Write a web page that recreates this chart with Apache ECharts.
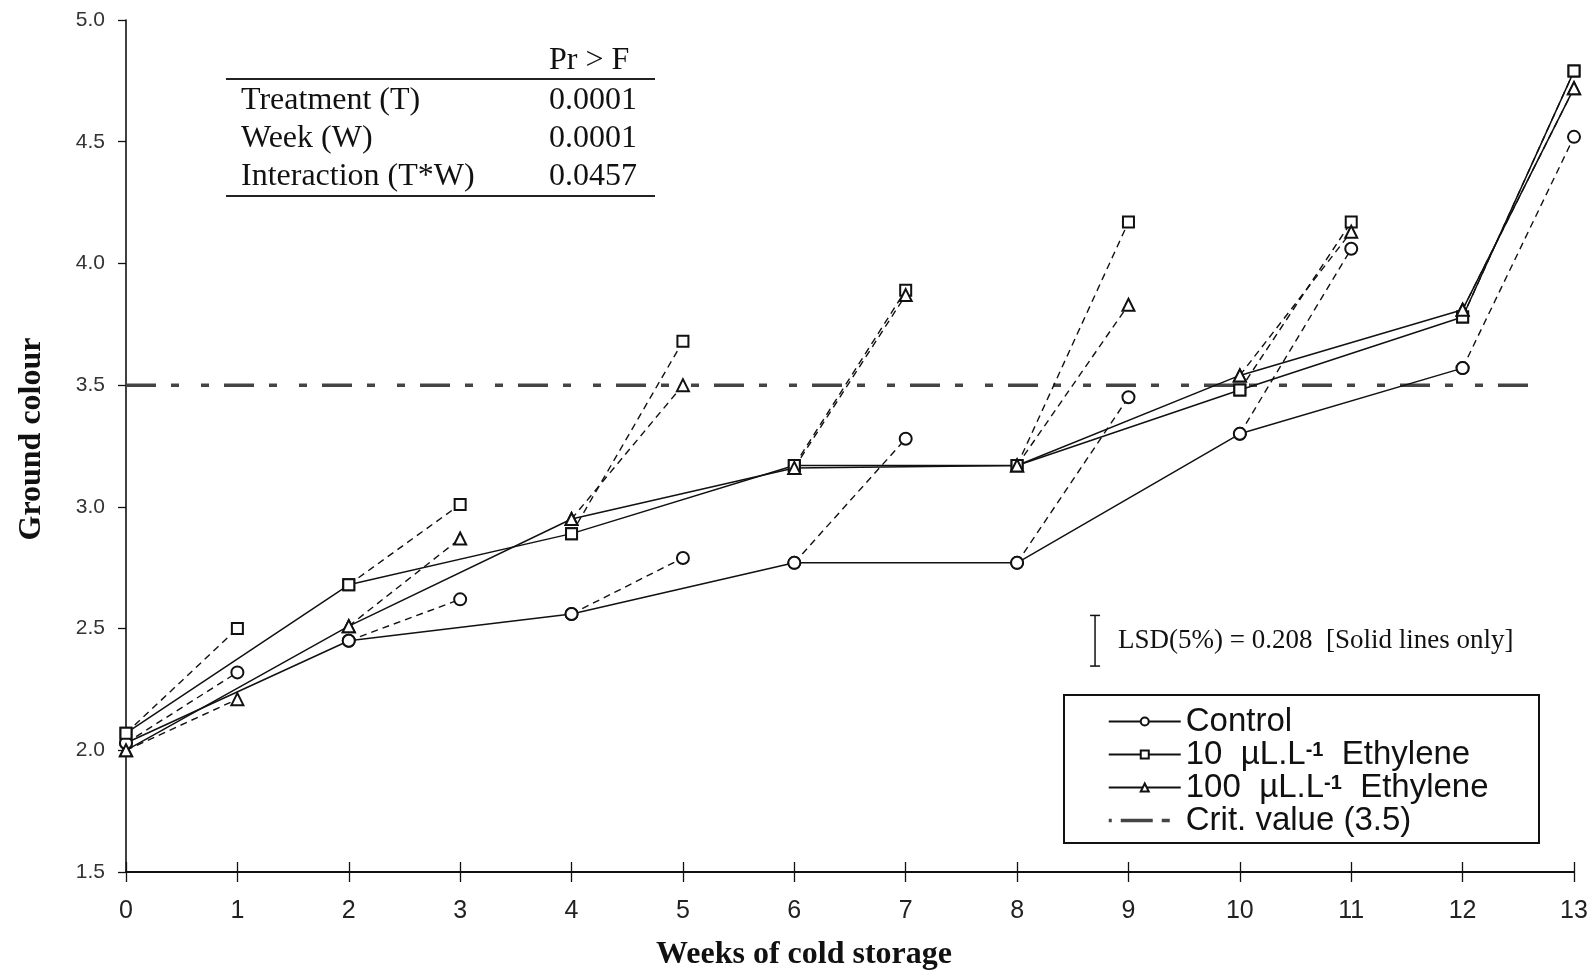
<!DOCTYPE html>
<html>
<head>
<meta charset="utf-8">
<title>Ground colour</title>
<script src="https://cdn.jsdelivr.net/npm/echarts@6/dist/echarts.min.js"></script>
<style>
  html, body { margin: 0; padding: 0; background: #fff; }
  #myChart { width: 1593px; height: 971px; }
</style>
</head>
<body>
<div id="myChart"></div>
<script>
// weeks of cold storage
var weeks = [0, 1, 2, 3, 4, 5, 6, 7, 8, 9, 10, 11, 12, 13];
// ground colour per week (even weeks = out of cold store, odd weeks = after shelf life)
var control     = [2.03, 2.32, 2.45, 2.62, 2.56, 2.79, 2.77, 3.28, 2.77, 3.45, 3.30, 4.06, 3.57, 4.52];
var ethylene10  = [2.07, 2.50, 2.68, 3.01, 2.89, 3.68, 3.17, 3.89, 3.17, 4.17, 3.48, 4.17, 3.78, 4.79];
var ethylene100 = [2.00, 2.21, 2.51, 2.87, 2.95, 3.50, 3.16, 3.87, 3.17, 3.83, 3.54, 4.13, 3.81, 4.72];

// weeks joined by the solid lines
var solidControl = [0, 2, 4, 6, 8, 10, 12];
var solidEthylene = [0, 2, 4, 6, 8, 10, 12, 13];
// weeks joined by the dashed lines
var dashedPairs = [[0, 1], [2, 3], [4, 5], [6, 7], [8, 9], [10, 11], [12, 13]];

var critValue = 3.5;
var critWeeks = [0, 12.6];
var lsd = 0.208;

var anovaTerms = ['Treatment (T)', 'Week (W)', 'Interaction (T*W)'];
var anovaP = ['0.0001', '0.0001', '0.0457'];

var names = ['Control', '10  µL.L-1  Ethylene', '100  µL.L-1  Ethylene', 'Crit. value (3.5)'];

function solidData(vals, ws) {
    return ws.map(function (w) { return [w, vals[weeks.indexOf(w)]]; });
}
function dashedData(vals) {
    var out = [];
    dashedPairs.forEach(function (p) {
        out.push([p[0], vals[weeks.indexOf(p[0])]]);
        out.push([p[1], vals[weeks.indexOf(p[1])]]);
        out.push([p[1], '-']);
    });
    return out;
}

var black = '#111';
var treatments = [
    { name: names[0], vals: control, ws: solidControl, symbol: 'emptyCircle', size: 12 },
    { name: names[1], vals: ethylene10, ws: solidEthylene, symbol: 'emptyRect', size: 11 },
    { name: names[2], vals: ethylene100, ws: solidEthylene, symbol: 'emptyTriangle', size: 12 }
];

var series = [];
treatments.forEach(function (t) {
    series.push({
        name: t.name + ' shelf',
        type: 'line',
        data: dashedData(t.vals),
        symbol: t.symbol,
        symbolSize: t.size,
        color: black,
        lineStyle: { color: black, width: 1.4, type: [7, 5] },
        itemStyle: { color: black, borderWidth: 1.4 },
        z: 3
    });
});
treatments.forEach(function (t) {
    series.push({
        name: t.name,
        type: 'line',
        data: solidData(t.vals, t.ws),
        symbol: t.symbol,
        symbolSize: t.size,
        color: black,
        lineStyle: { color: black, width: 1.5 },
        itemStyle: { color: black, borderWidth: 1.4 },
        z: 4
    });
});
series.push({
    name: names[3],
    type: 'line',
    data: critWeeks.map(function (w) { return [w, critValue]; }),
    symbol: 'none',
    showSymbol: false,
    color: '#444',
    lineStyle: { color: '#444', width: 3.5, type: [30, 15, 8, 22, 8, 15] },
    z: 2
});

function staticGraphics() {
    var g = [
        { type: 'line', shape: { x1: 226, y1: 79, x2: 655, y2: 79 }, style: { stroke: '#222', lineWidth: 2 } },
        { type: 'line', shape: { x1: 226, y1: 196, x2: 655, y2: 196 }, style: { stroke: '#222', lineWidth: 2 } },
        { type: 'text', x: 549, y: 61, style: { text: 'Pr > F', font: '32px "Liberation Serif", serif', fill: '#111', verticalAlign: 'middle' } },
        { type: 'rect', shape: { x: 1064, y: 695, width: 475, height: 148 }, style: { fill: 'none', stroke: '#111', lineWidth: 2 } },
        { type: 'text', x: 1118, y: 641, style: { text: 'LSD(5%) = 0.208  [Solid lines only]', font: '27px "Liberation Serif", serif', fill: '#111', verticalAlign: 'middle' } }
    ];
    anovaTerms.forEach(function (term, i) {
        g.push({ type: 'text', x: 241, y: 101 + i * 38, style: { text: term, font: '32px "Liberation Serif", serif', fill: '#111', verticalAlign: 'middle' } });
        g.push({ type: 'text', x: 549, y: 101 + i * 38, style: { text: anovaP[i], font: '32px "Liberation Serif", serif', fill: '#111', verticalAlign: 'middle' } });
    });
    return g;
}

var legendData = names.map(function (n, i) {
    if (i < 3) return { name: n };
    return {
        name: n,
        itemStyle: { opacity: 0 },
        lineStyle: { color: '#444', width: 3.5, type: [3, 9, 32, 9, 8, 30] }
    };
});

var myChart = echarts.init(document.getElementById('myChart'));
var option = {
    backgroundColor: '#fff',
    animation: false,
    grid: { left: 126, right: 19, top: 20, bottom: 99, containLabel: false, outerBoundsMode: 'none' },
    legend: {
        orient: 'vertical',
        left: 1107,
        top: 705,
        padding: 0,
        itemWidth: 72,
        itemHeight: 10,
        itemGap: 0,
        data: legendData,
        selectedMode: false,
        formatter: function (n) {
            if (n.indexOf('µL') >= 0) {
                var parts = n.split('-1');
                return '{a|' + parts[0] + '}{s|-1}{a|' + parts[1] + '}';
            }
            return '{a|' + n + '}';
        },
        textStyle: {
            color: '#111',
            lineHeight: 28,
            rich: {
                a: { fontFamily: '"Liberation Sans", Arial, sans-serif', fontSize: 33, lineHeight: 28, color: '#111' },
                s: { fontFamily: '"Liberation Sans", Arial, sans-serif', fontSize: 20, fontWeight: 'bold', lineHeight: 16, verticalAlign: 'top', color: '#111' }
            }
        }
    },
    xAxis: [{
        type: 'value',
        min: 0,
        max: 13,
        interval: 1,
        name: 'Weeks of cold storage',
        nameLocation: 'middle',
        nameGap: 67,
        nameTextStyle: { fontFamily: '"Liberation Serif", serif', fontWeight: 'bold', fontSize: 32, color: '#111', padding: [0, 92, 0, 0] },
        splitLine: { show: false },
        axisLine: { lineStyle: { color: '#111', width: 2.2 } },
        axisTick: { inside: true, length: 10, lineStyle: { color: '#111', width: 1.3 } },
        axisLabel: { margin: 27, fontFamily: '"Liberation Sans Narrow", "Liberation Sans", Arial, sans-serif', fontSize: 25, color: '#222' }
    }, {
        type: 'value',
        min: 0,
        max: 13,
        interval: 1,
        position: 'bottom',
        splitLine: { show: false },
        axisLine: { show: false },
        axisTick: { inside: false, length: 10, lineStyle: { color: '#111', width: 1.3 } },
        axisLabel: { show: false }
    }],
    yAxis: {
        type: 'value',
        min: 1.5,
        max: 5.0,
        interval: 0.5,
        name: 'Ground colour',
        nameLocation: 'middle',
        nameGap: 78,
        nameTextStyle: { fontFamily: '"Liberation Serif", serif', fontWeight: 'bold', fontSize: 32, color: '#111', padding: [0, 0, 0, 14] },
        splitLine: { show: false },
        axisLine: { show: true, lineStyle: { color: '#111', width: 1.6 } },
        axisTick: { show: true, length: 8, lineStyle: { color: '#111', width: 1.3 } },
        axisLabel: {
            margin: 21,
            fontFamily: '"Liberation Sans", Arial, sans-serif',
            fontSize: 21,
            color: '#333',
            formatter: function (v) { return v.toFixed(1); }
        }
    },
    graphic: staticGraphics(),
    series: series
};

myChart.setOption(option);

// LSD bar drawn to the y scale
(function () {
    var barTop = myChart.convertToPixel({ yAxisIndex: 0 }, 2.45 + lsd / 2);
    var barBottom = myChart.convertToPixel({ yAxisIndex: 0 }, 2.45 - lsd / 2);
    var bx = myChart.convertToPixel({ xAxisIndex: 0 }, 8.7);
    myChart.setOption({
        graphic: staticGraphics().concat([
            { type: 'line', shape: { x1: bx, y1: barTop, x2: bx, y2: barBottom }, style: { stroke: '#111', lineWidth: 1.5 } },
            { type: 'line', shape: { x1: bx - 5, y1: barTop, x2: bx + 5, y2: barTop }, style: { stroke: '#111', lineWidth: 1.5 } },
            { type: 'line', shape: { x1: bx - 5, y1: barBottom, x2: bx + 5, y2: barBottom }, style: { stroke: '#111', lineWidth: 1.5 } }
        ])
    });
})();
</script>
</body>
</html>
